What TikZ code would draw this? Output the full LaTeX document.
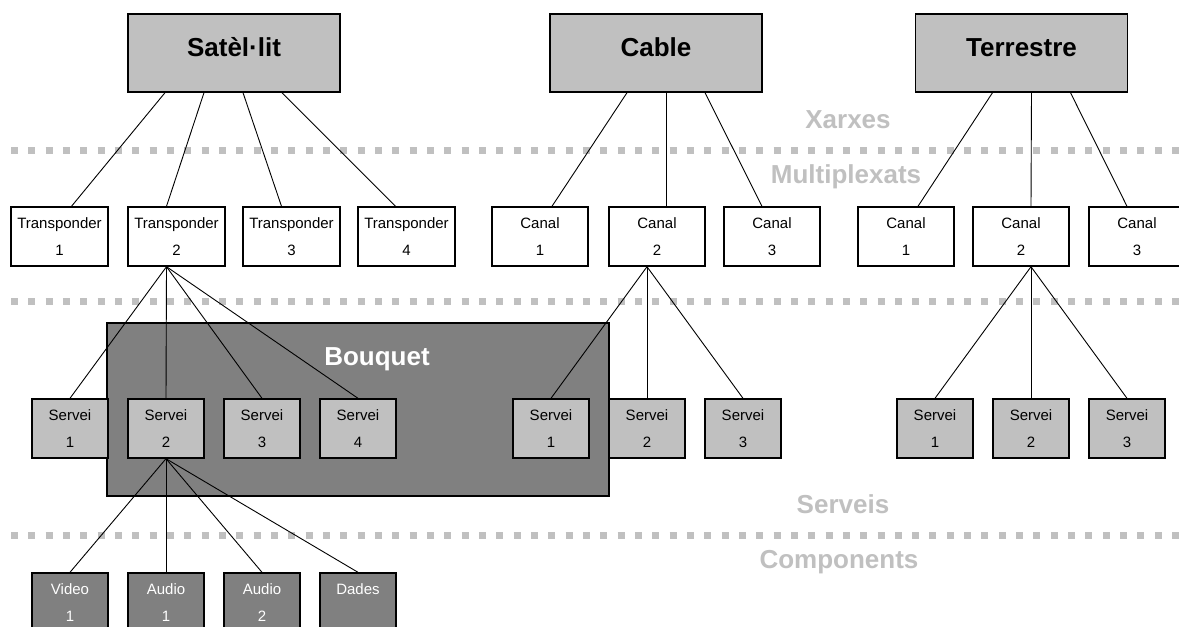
\documentclass[tikz,border=0pt]{standalone}
\usepackage{fontspec}
\setmainfont{Liberation Sans}
\usepackage{tikz}
\definecolor{lightgrey}{HTML}{C0C0C0}
\definecolor{darkgrey}{HTML}{808080}

\begin{document}
\begin{tikzpicture}[x=1pt, y=-1pt,
        netbox/.style={draw, line width=1.4pt, fill=lightgrey, minimum width=212, minimum height=78,
            inner sep=0, text height=19pt, text depth=13pt, font=\fontsize{26}{30}\selectfont\bfseries},
        muxbox/.style={draw, line width=1.4pt, fill=white, minimum width=96, minimum height=59,
            inner sep=0, align=center, font=\fontsize{15}{27}\selectfont},
        servbox/.style={muxbox, fill=lightgrey, minimum width=76},
        compbox/.style={muxbox, fill=darkgrey, text=white, minimum width=76},
        layerlabel/.style={anchor=base, text=lightgrey, font=\fontsize{26}{30}\selectfont\bfseries},
        sepline/.style={lightgrey, line width=7pt, dash pattern=on 7pt off 10.33pt},
        link/.style={line width=0.9pt}]
        \useasboundingbox (0,0) rectangle (1179,627);
        \fill[white] (0,0) rectangle (1179,627);

        % separacio de capes
        \foreach \y in {150.5, 301.5, 535.5}
        {
            \draw[sepline] (11,\y) -- (1190,\y);
        }
        \node[layerlabel] (xarxes) at (848,128) {Xarxes};
        \node[layerlabel] (mux) at (846,183) {Multiplexats};
        \node[layerlabel] (serveis) at (843,513) {Serveis};
        \node[layerlabel] (comp) at (839,568) {Components};

        % bouquet
        \node[draw, line width=1.4pt, fill=darkgrey, minimum width=502, minimum height=173, inner sep=0]
            (bouquet) at (358,409.5) {};
        \node[anchor=base, text=white, font=\fontsize{26}{30}\selectfont\bfseries] (bqlabel) at (377,365) {Bouquet};

        % xarxes
        \node[netbox] (sat) at (234,53) {Satèl·lit};
        \node[netbox] (cable) at (656,53) {Cable};
        \node[netbox] (terr) at (1021.5,53) {Terrestre};

        % multiplexats
        \foreach \x [count=\i] in {59.5, 176.5, 291.5, 406.5}
            \node[muxbox, minimum width=97] (t\i) at (\x,236.5) {Transponder\\\i};
        \foreach \x [count=\i] in {540, 657, 772}
            \node[muxbox] (cc\i) at (\x,236.5) {Canal\\\i};
        \foreach \x [count=\i] in {906, 1021, 1137}
            \node[muxbox] (tc\i) at (\x,236.5) {Canal\\\i};

        % serveis
        \foreach \x [count=\i] in {70, 166, 262, 358}
            \node[servbox] (ss\i) at (\x,428.5) {Servei\\\i};
        \foreach \x [count=\i] in {551, 647, 743}
            \node[servbox] (cs\i) at (\x,428.5) {Servei\\\i};
        \foreach \x [count=\i] in {935, 1031, 1127}
            \node[servbox] (ts\i) at (\x,428.5) {Servei\\\i};

        % components
        \node[compbox] (video) at (70,602.5) {Video\\1};
        \node[compbox] (audio1) at (166,602.5) {Audio\\1};
        \node[compbox] (audio2) at (262,602.5) {Audio\\2};
        \node[compbox] (dades) at (358,602.5) {Dades\\~};

        % connexions
        \foreach \s/\e [count=\i] in {-69/12, -30/-10, 9/-10, 48/-11}
            \draw[link] ([xshift=\s]sat.south) -- ([xshift=\e]t\i.north);
        \foreach \s/\e [count=\i] in {-29/12, 10/9, 49/-10}
            \draw[link] ([xshift=\s]cable.south) -- ([xshift=\e]cc\i.north);
        \foreach \s/\e [count=\i] in {-29/12, 10/10, 49/-10}
            \draw[link] ([xshift=\s]terr.south) -- ([xshift=\e]tc\i.north);
        \foreach \i in {1, ..., 4}
            \draw[link] ([xshift=-10]t2.south) -- (ss\i.north);
        \foreach \i in {1, 2, 3}
        {
            \draw[link] ([xshift=-10]cc2.south) -- (cs\i.north);
            \draw[link] ([xshift=10]tc2.south) -- (ts\i.north);
        }
        \foreach \c in {video, audio1, audio2, dades}
            \draw[link] (ss2.south) -- (\c.north);
    \end{tikzpicture}
\end{document}
